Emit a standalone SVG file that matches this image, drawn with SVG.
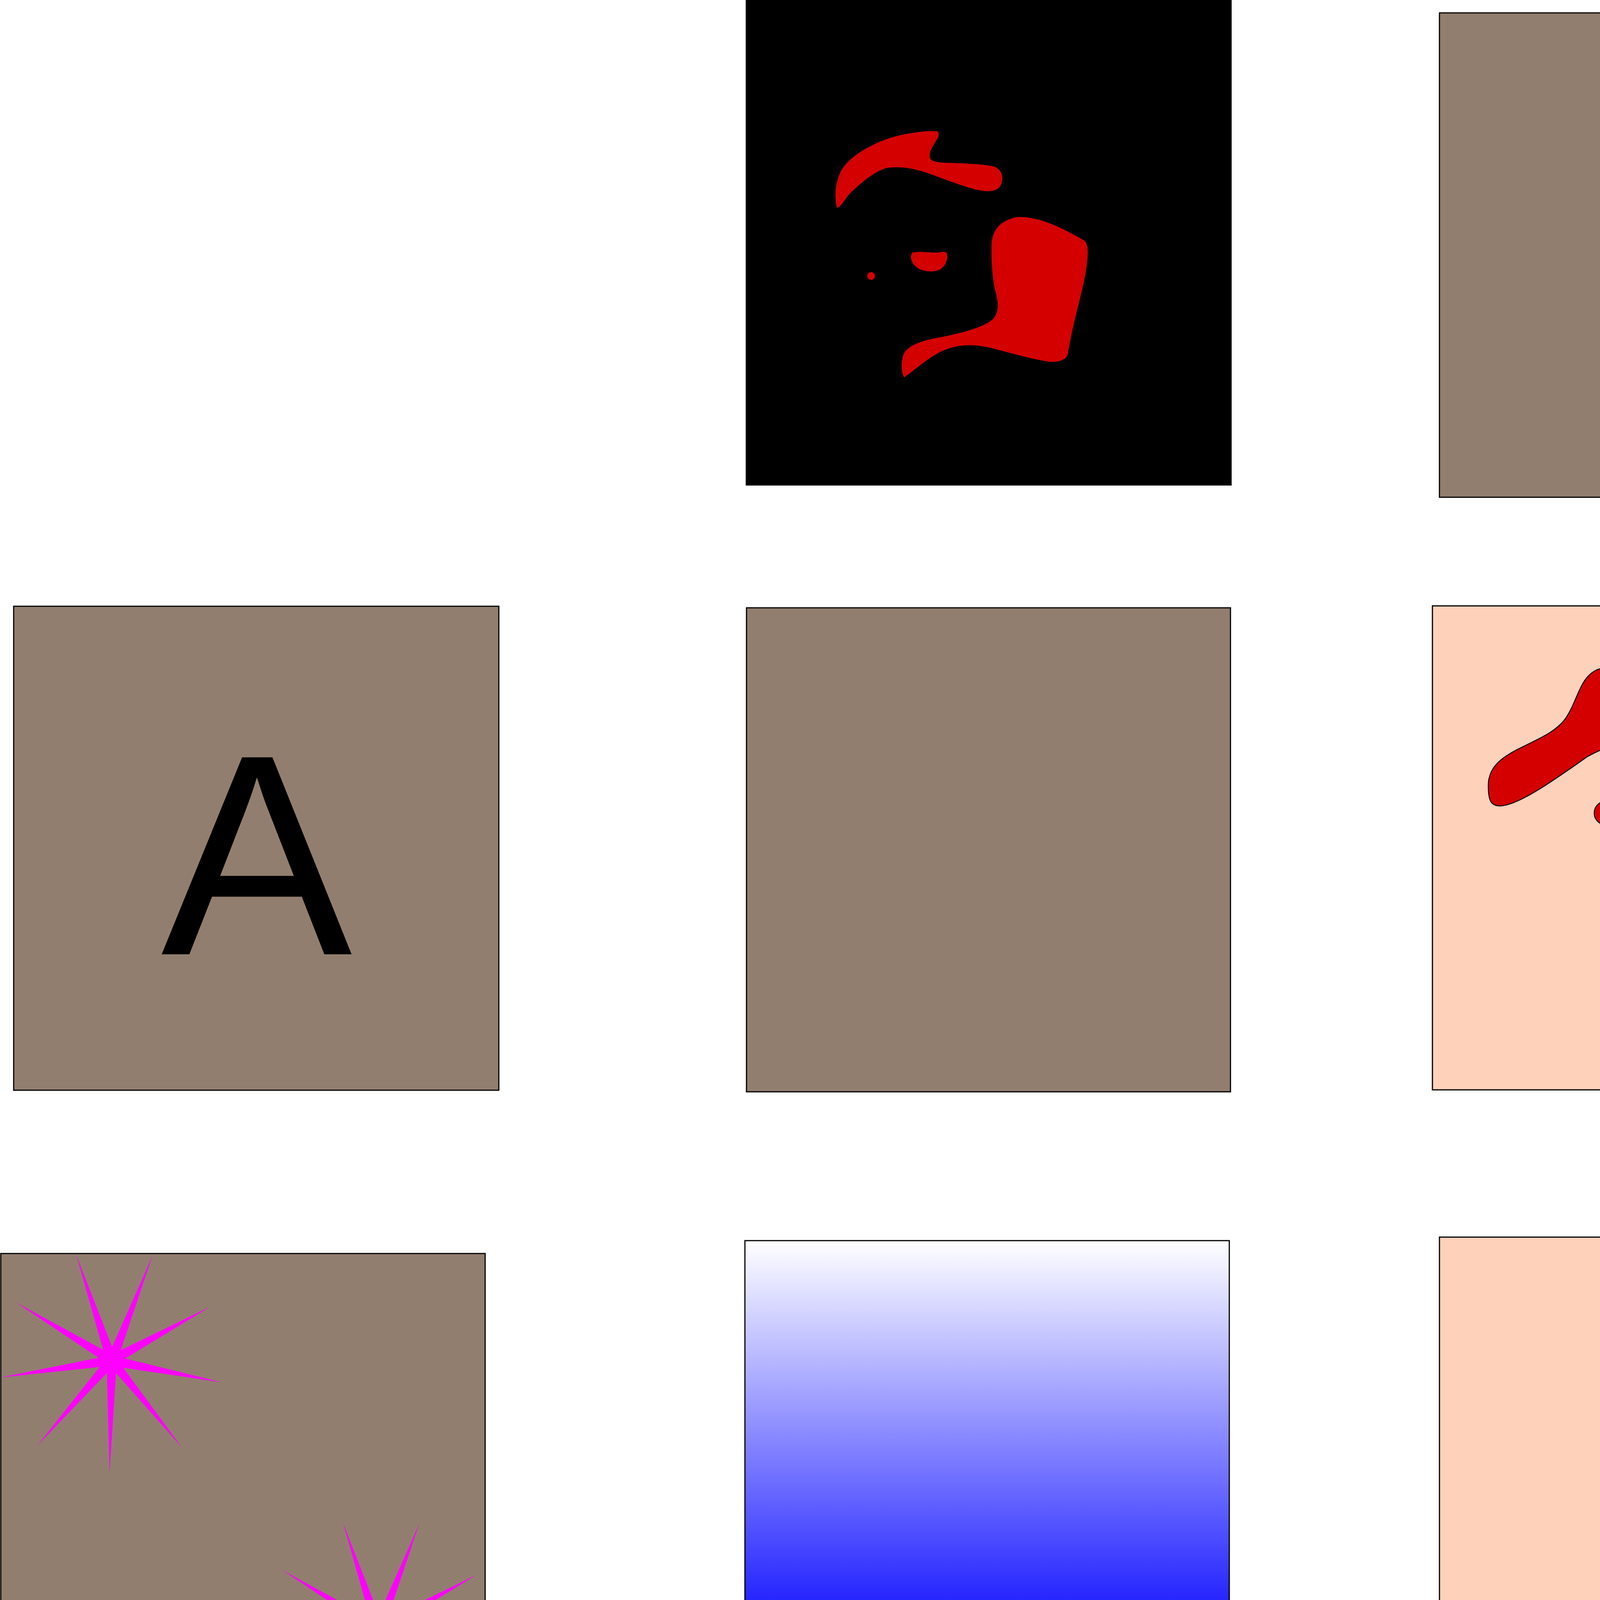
<svg xmlns="http://www.w3.org/2000/svg" width="6674" height="4454" viewBox="0 0 6674 4454">
<style>
.box{stroke:#000;stroke-width:3}
.brown{fill:#927e6f}
.peach{fill:#fdd1ba}
.grey{fill:#e2e2db}
.red{fill:#d40000}
.reds{fill:#d40000;stroke:#000;stroke-width:3}
.star{fill:#ff00ff}
</style>
<defs>
<linearGradient id="blueGrad" x1="0" y1="0" x2="0" y2="1">
<stop offset="0" stop-color="#ffffff"/>
<stop offset="0.87" stop-color="#0000ff"/>
<stop offset="1" stop-color="#0000ff"/>
</linearGradient>
<polygon id="starShape" points="195.2,3212.5 287,3447.9 390.4,3214.4 309.2,3456.3 537.7,3345.3 320.7,3477.7 566.4,3538.6 315.7,3501.5 466.1,3706.2 297,3515.2 280.5,3769.4 273.6,3515.2 95.7,3700.5 254.9,3499.6 1.9,3526.3 251.8,3475.8 40.2,3333.8 264.1,3455.5"/>
</defs>
<rect width="6674" height="4454" fill="#fff"/>

<g id="node-black">
<rect x="1909" y="0" width="1244" height="1243" fill="#000"/>
<g transform="translate(1900,0) scale(0.8292)">
<path class="red" d="M292,640 C285,610 285,560 310,520 C340,475 420,430 500,415 C540,407 575,403 600,405 C612,408 606,425 598,435 C588,452 575,470 580,488 C585,500 610,502 640,503 C700,505 755,508 780,515 C800,525 805,540 802,560 C798,582 782,592 750,590 C700,584 640,558 560,530 C520,518 480,512 440,520 C400,535 360,570 330,600 C310,625 300,645 292,640 Z"/>
<path class="red" d="M500,1165 C490,1150 490,1110 500,1090 C520,1062 560,1050 620,1040 C690,1025 745,1010 775,985 C795,960 790,930 782,900 C772,860 768,800 770,750 C775,705 800,680 850,670 C920,668 990,705 1055,742 C1070,755 1068,780 1065,810 C1058,870 1040,930 1025,995 C1012,1050 1008,1080 1005,1095 C998,1112 978,1118 950,1117 C900,1110 830,1090 760,1072 C700,1060 650,1065 605,1090 C560,1115 530,1145 500,1165 Z"/>
<path class="red" d="M525,780 C545,775 580,780 600,780 C615,779 628,774 632,782 C636,800 630,820 610,832 C590,842 555,840 535,822 C520,808 518,790 525,780 Z"/>
<circle class="red" cx="398" cy="852" r="12"/>
</g>
</g>

<g id="node-brown-top">
<rect class="box brown" x="3685" y="33" width="1241" height="1240"/>
</g>

<g id="node-brown-a">
<rect class="box brown" x="35" y="1552" width="1242" height="1239"/>
<text x="657" y="2443" text-anchor="middle" font-family="'Liberation Sans', Arial, sans-serif" font-size="733" fill="#000">A</text>
</g>

<g id="node-brown-mid">
<rect class="box brown" x="1911" y="1556" width="1239" height="1239"/>
</g>

<g id="node-peach-blobs">
<rect class="box peach" x="3667" y="1551" width="1241" height="1239"/>
<g transform="translate(3650,1530) scale(0.8292)">
<path class="reds" d="M230,643 C290,640 400,560 500,490 C560,458 610,443 650,443 C720,443 770,485 830,550 C880,605 940,716 978,716 C990,716 993,690 993,660 C993,560 950,470 880,395 C790,290 680,216 565,216 C530,216 505,230 485,265 C465,300 455,340 430,375 C400,415 350,435 290,465 C230,495 193,525 193,580 C193,625 200,643 230,643 Z"/>
<ellipse class="reds" cx="957" cy="241" rx="43" ry="45"/>
<ellipse class="reds" cx="657" cy="568" rx="29" ry="38"/>
<ellipse class="reds" cx="560" cy="665" rx="40" ry="38"/>
<ellipse class="reds" cx="1029" cy="909" rx="26" ry="37"/>
<ellipse class="reds" cx="1003" cy="1123" rx="14" ry="17"/>
<ellipse class="reds" cx="843" cy="1227" rx="20" ry="21"/>
</g>
</g>

<g id="node-peach-right">
<rect class="box peach" x="5429" y="1556" width="1242" height="1239"/>
</g>

<g id="node-stars">
<rect class="box brown" x="2" y="3209" width="1240" height="1240"/>
<use href="#starShape" class="star"/>
<use href="#starShape" class="star" transform="translate(683,686)"/>
</g>

<g id="node-gradient">
<rect class="box" x="1907" y="3176" width="1240" height="1240" fill="url(#blueGrad)"/>
</g>

<g id="node-peach-vbar">
<rect class="box peach" x="3685" y="3167" width="1240" height="1240"/>
<rect class="box grey" x="4219" y="3168" width="175" height="1239"/>
</g>

<g id="node-peach-hbar">
<rect class="box peach" x="5432" y="3160" width="1240" height="1239"/>
<rect class="box grey" x="5432" y="3665" width="1240" height="173"/>
</g>

<g id="connectors"></g>
</svg>
